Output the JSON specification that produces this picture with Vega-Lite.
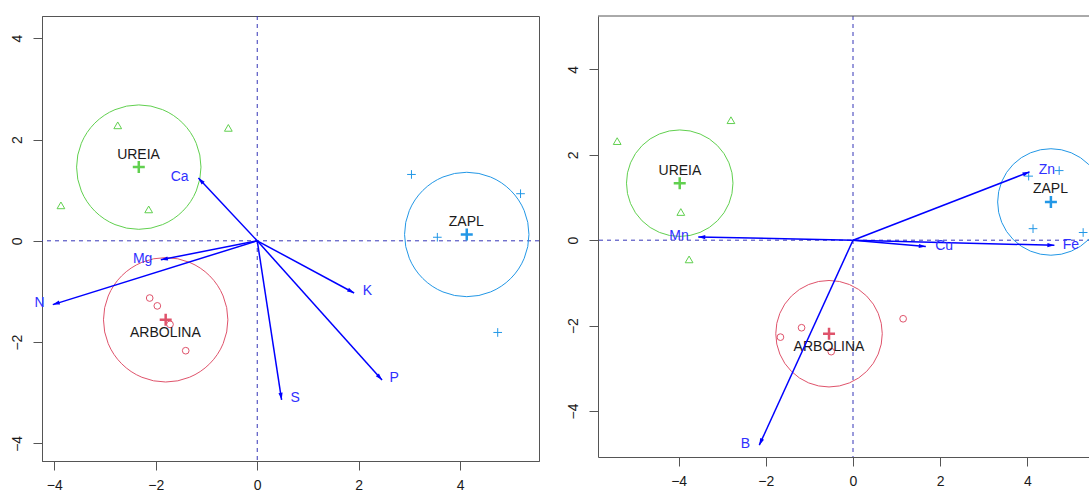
{
  "$schema": "https://vega.github.io/schema/vega-lite/v6.json",
  "background": "white",
  "padding": {"left": 9, "top": 15, "right": 0, "bottom": 0},
  "spacing": 26,
  "config": {
    "font": "Liberation Sans",
    "view": {"stroke": "#555", "strokeWidth": 1},
    "axis": {"grid": false, "domainColor": "#555", "domainWidth": 1, "tickColor": "#555", "tickSize": 9, "tickWidth": 1, "labelFontSize": 14, "labelColor": "#1a1a1a", "labelFont": "Liberation Sans", "labelFlush": false, "labelOverlap": false},
    "axisX": {"labelPadding": 8, "labelBaseline": "top"},
    "axisY": {"labelAngle": -90, "labelAlign": "center", "labelBaseline": "bottom", "labelPadding": 9}
  },
  "datasets": {
    "origin": [{"x": 0, "y": 0}],
    "macroScores": [
      {"group": "UREIA", "x": -2.75, "y": 2.28},
      {"group": "UREIA", "x": -0.57, "y": 2.23},
      {"group": "UREIA", "x": -3.87, "y": 0.70},
      {"group": "UREIA", "x": -2.14, "y": 0.62},
      {"group": "ARBOLINA", "x": -2.12, "y": -1.13},
      {"group": "ARBOLINA", "x": -1.97, "y": -1.285},
      {"group": "ARBOLINA", "x": -1.72, "y": -1.65},
      {"group": "ARBOLINA", "x": -1.41, "y": -2.17},
      {"group": "ZAPL", "x": 3.04, "y": 1.31},
      {"group": "ZAPL", "x": 5.19, "y": 0.93},
      {"group": "ZAPL", "x": 3.55, "y": 0.07},
      {"group": "ZAPL", "x": 4.74, "y": -1.81}
    ],
    "macroGroups": [
      {"group": "UREIA", "x": -2.335, "y": 1.455, "lx": -2.34, "ly": 1.69},
      {"group": "ARBOLINA", "x": -1.805, "y": -1.56, "lx": -1.81, "ly": -1.82},
      {"group": "ZAPL", "x": 4.13, "y": 0.125, "lx": 4.12, "ly": 0.38}
    ],
    "macroVars": [
      {"nutrient": "Ca", "x": -1.16, "y": 1.24, "lx": -1.53, "ly": 1.26},
      {"nutrient": "Mg", "x": -1.90, "y": -0.375, "lx": -2.26, "ly": -0.36},
      {"nutrient": "N", "x": -4.03, "y": -1.26, "lx": -4.29, "ly": -1.23},
      {"nutrient": "K", "x": 1.91, "y": -1.03, "lx": 2.17, "ly": -1.00},
      {"nutrient": "P", "x": 2.46, "y": -2.75, "lx": 2.70, "ly": -2.71},
      {"nutrient": "S", "x": 0.48, "y": -3.14, "lx": 0.75, "ly": -3.10}
    ],
    "microScores": [
      {"group": "UREIA", "x": -5.41, "y": 2.32},
      {"group": "UREIA", "x": -2.80, "y": 2.81},
      {"group": "UREIA", "x": -3.95, "y": 0.66},
      {"group": "UREIA", "x": -3.76, "y": -0.45},
      {"group": "ARBOLINA", "x": -1.665, "y": -2.27},
      {"group": "ARBOLINA", "x": -1.18, "y": -2.05},
      {"group": "ARBOLINA", "x": -0.50, "y": -2.61},
      {"group": "ARBOLINA", "x": 1.15, "y": -1.84},
      {"group": "ZAPL", "x": 4.03, "y": 1.50},
      {"group": "ZAPL", "x": 4.73, "y": 1.63},
      {"group": "ZAPL", "x": 4.13, "y": 0.27},
      {"group": "ZAPL", "x": 5.28, "y": 0.18}
    ],
    "microGroups": [
      {"group": "UREIA", "x": -3.975, "y": 1.335, "lx": -3.97, "ly": 1.63},
      {"group": "ARBOLINA", "x": -0.55, "y": -2.19, "lx": -0.55, "ly": -2.50},
      {"group": "ZAPL", "x": 4.54, "y": 0.895, "lx": 4.53, "ly": 1.19}
    ],
    "microVars": [
      {"nutrient": "Zn", "x": 4.05, "y": 1.60, "lx": 4.45, "ly": 1.64},
      {"nutrient": "Mn", "x": -3.55, "y": 0.075, "lx": -3.99, "ly": 0.095},
      {"nutrient": "Cu", "x": 1.67, "y": -0.15, "lx": 2.09, "ly": -0.14},
      {"nutrient": "Fe", "x": 4.62, "y": -0.12, "lx": 5.0, "ly": -0.11},
      {"nutrient": "B", "x": -2.15, "y": -4.80, "lx": -2.47, "ly": -4.78}
    ]
  },
  "hconcat": [
    {
      "width": 497,
      "height": 445,
      "layer": [
        {
          "data": {"name": "origin"},
          "mark": {"type": "rule", "color": "#3535b8", "strokeWidth": 1, "strokeDash": [4, 4]},
          "encoding": {"x": {"field": "x", "type": "quantitative", "scale": {"domain": [-4.243, 5.554], "nice": false, "zero": false}, "axis": {"values": [-4, -2, 0, 2, 4], "title": null}}}
        },
        {
          "data": {"name": "origin"},
          "mark": {"type": "rule", "color": "#3535b8", "strokeWidth": 1, "strokeDash": [4, 4]},
          "encoding": {"y": {"field": "y", "type": "quantitative", "scale": {"domain": [-4.348, 4.439], "nice": false, "zero": false}, "axis": {"values": [-4, -2, 0, 2, 4], "title": null}}}
        },
        {
          "data": {"name": "macroGroups"},
          "mark": {"type": "point", "shape": "circle", "filled": false, "size": 15475, "strokeWidth": 1, "opacity": 1},
          "encoding": {
            "x": {"field": "x", "type": "quantitative", "scale": {"domain": [-4.243, 5.554], "nice": false, "zero": false}, "axis": {"values": [-4, -2, 0, 2, 4], "title": null}},
            "y": {"field": "y", "type": "quantitative", "scale": {"domain": [-4.348, 4.439], "nice": false, "zero": false}, "axis": {"values": [-4, -2, 0, 2, 4], "title": null}},
            "color": {"field": "group", "type": "nominal", "scale": {"domain": ["ARBOLINA", "UREIA", "ZAPL"], "range": ["#DF536B", "#61D04F", "#2297E6"]}, "legend": null}
          }
        },
        {
          "data": {"name": "macroScores"},
          "mark": {"type": "point", "filled": false, "strokeWidth": 1, "opacity": 1},
          "encoding": {
            "x": {"field": "x", "type": "quantitative", "scale": {"domain": [-4.243, 5.554], "nice": false, "zero": false}, "axis": {"values": [-4, -2, 0, 2, 4], "title": null}},
            "y": {"field": "y", "type": "quantitative", "scale": {"domain": [-4.348, 4.439], "nice": false, "zero": false}, "axis": {"values": [-4, -2, 0, 2, 4], "title": null}},
            "color": {"field": "group", "type": "nominal", "scale": {"domain": ["ARBOLINA", "UREIA", "ZAPL"], "range": ["#DF536B", "#61D04F", "#2297E6"]}, "legend": null},
            "shape": {"field": "group", "type": "nominal", "scale": {"domain": ["ARBOLINA", "UREIA", "ZAPL"], "range": ["circle", "triangle-up", "M-1,0L1,0M0,-1L0,1"]}, "legend": null},
            "size": {"field": "group", "type": "nominal", "scale": {"domain": ["ARBOLINA", "UREIA", "ZAPL"], "range": [45, 75, 55]}, "legend": null}
          }
        },
        {
          "data": {"name": "macroGroups"},
          "mark": {"type": "point", "shape": "M-1,0L1,0M0,-1L0,1", "filled": false, "size": 144, "strokeWidth": 2.5, "opacity": 1},
          "encoding": {
            "x": {"field": "x", "type": "quantitative", "scale": {"domain": [-4.243, 5.554], "nice": false, "zero": false}, "axis": {"values": [-4, -2, 0, 2, 4], "title": null}},
            "y": {"field": "y", "type": "quantitative", "scale": {"domain": [-4.348, 4.439], "nice": false, "zero": false}, "axis": {"values": [-4, -2, 0, 2, 4], "title": null}},
            "color": {"field": "group", "type": "nominal", "scale": {"domain": ["ARBOLINA", "UREIA", "ZAPL"], "range": ["#DF536B", "#61D04F", "#2297E6"]}, "legend": null}
          }
        },
        {
          "data": {"name": "macroGroups"},
          "mark": {"type": "text", "fontSize": 14, "color": "#1a1a1a", "align": "center", "baseline": "middle"},
          "encoding": {
            "x": {"field": "lx", "type": "quantitative", "scale": {"domain": [-4.243, 5.554], "nice": false, "zero": false}, "axis": {"values": [-4, -2, 0, 2, 4], "title": null}},
            "y": {"field": "ly", "type": "quantitative", "scale": {"domain": [-4.348, 4.439], "nice": false, "zero": false}, "axis": {"values": [-4, -2, 0, 2, 4], "title": null}},
            "text": {"field": "group", "type": "nominal"}
          }
        },
        {
          "data": {"name": "macroVars"},
          "mark": {"type": "rule", "color": "#0000ff", "strokeWidth": 1.5},
          "encoding": {
            "x": {"field": "x", "type": "quantitative", "scale": {"domain": [-4.243, 5.554], "nice": false, "zero": false}, "axis": {"values": [-4, -2, 0, 2, 4], "title": null}},
            "y": {"field": "y", "type": "quantitative", "scale": {"domain": [-4.348, 4.439], "nice": false, "zero": false}, "axis": {"values": [-4, -2, 0, 2, 4], "title": null}},
            "x2": {"datum": 0},
            "y2": {"datum": 0}
          }
        },
        {
          "data": {"name": "macroVars"},
          "transform": [{"calculate": "atan2(datum.x, datum.y) * 180 / PI", "as": "heading"}],
          "mark": {"type": "point", "shape": "M0,0L-0.3,1L0.3,1Z", "filled": true, "size": 196, "color": "#0000ff", "opacity": 1},
          "encoding": {
            "x": {"field": "x", "type": "quantitative", "scale": {"domain": [-4.243, 5.554], "nice": false, "zero": false}, "axis": {"values": [-4, -2, 0, 2, 4], "title": null}},
            "y": {"field": "y", "type": "quantitative", "scale": {"domain": [-4.348, 4.439], "nice": false, "zero": false}, "axis": {"values": [-4, -2, 0, 2, 4], "title": null}},
            "angle": {"field": "heading", "type": "quantitative", "scale": null}
          }
        },
        {
          "data": {"name": "macroVars"},
          "mark": {"type": "text", "fontSize": 14, "color": "#3030ff", "align": "center", "baseline": "middle"},
          "encoding": {
            "x": {"field": "lx", "type": "quantitative", "scale": {"domain": [-4.243, 5.554], "nice": false, "zero": false}, "axis": {"values": [-4, -2, 0, 2, 4], "title": null}},
            "y": {"field": "ly", "type": "quantitative", "scale": {"domain": [-4.348, 4.439], "nice": false, "zero": false}, "axis": {"values": [-4, -2, 0, 2, 4], "title": null}},
            "text": {"field": "nutrient", "type": "nominal"}
          }
        }
      ]
    },
    {
      "width": 493,
      "height": 441,
      "view": {"stroke": null},
      "layer": [
        {
          "data": {"name": "origin"},
          "mark": {"type": "rule", "color": "#3535b8", "strokeWidth": 1, "strokeDash": [4, 4]},
          "encoding": {"x": {"field": "x", "type": "quantitative", "scale": {"domain": [-5.85, 5.46], "nice": false, "zero": false}, "axis": {"values": [-4, -2, 0, 2, 4], "title": null}}}
        },
        {
          "data": {"name": "origin"},
          "mark": {"type": "rule", "color": "#3535b8", "strokeWidth": 1, "strokeDash": [4, 4]},
          "encoding": {"y": {"field": "y", "type": "quantitative", "scale": {"domain": [-5.077, 5.25], "nice": false, "zero": false}, "axis": {"values": [-4, -2, 0, 2, 4], "title": null}}}
        },
        {
          "data": {"name": "origin"},
          "mark": {"type": "rule", "color": "#555", "strokeWidth": 1},
          "encoding": {"y": {"datum": 5.25, "type": "quantitative", "scale": {"domain": [-5.077, 5.25], "nice": false, "zero": false}, "axis": {"values": [-4, -2, 0, 2, 4], "title": null}}}
        },
        {
          "data": {"name": "microGroups"},
          "mark": {"type": "point", "shape": "circle", "filled": false, "size": 11340, "strokeWidth": 1, "opacity": 1, "clip": true},
          "encoding": {
            "x": {"field": "x", "type": "quantitative", "scale": {"domain": [-5.85, 5.46], "nice": false, "zero": false}, "axis": {"values": [-4, -2, 0, 2, 4], "title": null}},
            "y": {"field": "y", "type": "quantitative", "scale": {"domain": [-5.077, 5.25], "nice": false, "zero": false}, "axis": {"values": [-4, -2, 0, 2, 4], "title": null}},
            "color": {"field": "group", "type": "nominal", "scale": {"domain": ["ARBOLINA", "UREIA", "ZAPL"], "range": ["#DF536B", "#61D04F", "#2297E6"]}, "legend": null}
          }
        },
        {
          "data": {"name": "microScores"},
          "mark": {"type": "point", "filled": false, "strokeWidth": 1, "opacity": 1},
          "encoding": {
            "x": {"field": "x", "type": "quantitative", "scale": {"domain": [-5.85, 5.46], "nice": false, "zero": false}, "axis": {"values": [-4, -2, 0, 2, 4], "title": null}},
            "y": {"field": "y", "type": "quantitative", "scale": {"domain": [-5.077, 5.25], "nice": false, "zero": false}, "axis": {"values": [-4, -2, 0, 2, 4], "title": null}},
            "color": {"field": "group", "type": "nominal", "scale": {"domain": ["ARBOLINA", "UREIA", "ZAPL"], "range": ["#DF536B", "#61D04F", "#2297E6"]}, "legend": null},
            "shape": {"field": "group", "type": "nominal", "scale": {"domain": ["ARBOLINA", "UREIA", "ZAPL"], "range": ["circle", "triangle-up", "M-1,0L1,0M0,-1L0,1"]}, "legend": null},
            "size": {"field": "group", "type": "nominal", "scale": {"domain": ["ARBOLINA", "UREIA", "ZAPL"], "range": [45, 75, 55]}, "legend": null}
          }
        },
        {
          "data": {"name": "microGroups"},
          "mark": {"type": "point", "shape": "M-1,0L1,0M0,-1L0,1", "filled": false, "size": 144, "strokeWidth": 2.5, "opacity": 1},
          "encoding": {
            "x": {"field": "x", "type": "quantitative", "scale": {"domain": [-5.85, 5.46], "nice": false, "zero": false}, "axis": {"values": [-4, -2, 0, 2, 4], "title": null}},
            "y": {"field": "y", "type": "quantitative", "scale": {"domain": [-5.077, 5.25], "nice": false, "zero": false}, "axis": {"values": [-4, -2, 0, 2, 4], "title": null}},
            "color": {"field": "group", "type": "nominal", "scale": {"domain": ["ARBOLINA", "UREIA", "ZAPL"], "range": ["#DF536B", "#61D04F", "#2297E6"]}, "legend": null}
          }
        },
        {
          "data": {"name": "microGroups"},
          "mark": {"type": "text", "fontSize": 14, "color": "#1a1a1a", "align": "center", "baseline": "middle"},
          "encoding": {
            "x": {"field": "lx", "type": "quantitative", "scale": {"domain": [-5.85, 5.46], "nice": false, "zero": false}, "axis": {"values": [-4, -2, 0, 2, 4], "title": null}},
            "y": {"field": "ly", "type": "quantitative", "scale": {"domain": [-5.077, 5.25], "nice": false, "zero": false}, "axis": {"values": [-4, -2, 0, 2, 4], "title": null}},
            "text": {"field": "group", "type": "nominal"}
          }
        },
        {
          "data": {"name": "microVars"},
          "mark": {"type": "rule", "color": "#0000ff", "strokeWidth": 1.5},
          "encoding": {
            "x": {"field": "x", "type": "quantitative", "scale": {"domain": [-5.85, 5.46], "nice": false, "zero": false}, "axis": {"values": [-4, -2, 0, 2, 4], "title": null}},
            "y": {"field": "y", "type": "quantitative", "scale": {"domain": [-5.077, 5.25], "nice": false, "zero": false}, "axis": {"values": [-4, -2, 0, 2, 4], "title": null}},
            "x2": {"datum": 0},
            "y2": {"datum": 0}
          }
        },
        {
          "data": {"name": "microVars"},
          "transform": [{"calculate": "atan2(datum.x, datum.y) * 180 / PI", "as": "heading"}],
          "mark": {"type": "point", "shape": "M0,0L-0.3,1L0.3,1Z", "filled": true, "size": 196, "color": "#0000ff", "opacity": 1},
          "encoding": {
            "x": {"field": "x", "type": "quantitative", "scale": {"domain": [-5.85, 5.46], "nice": false, "zero": false}, "axis": {"values": [-4, -2, 0, 2, 4], "title": null}},
            "y": {"field": "y", "type": "quantitative", "scale": {"domain": [-5.077, 5.25], "nice": false, "zero": false}, "axis": {"values": [-4, -2, 0, 2, 4], "title": null}},
            "angle": {"field": "heading", "type": "quantitative", "scale": null}
          }
        },
        {
          "data": {"name": "microVars"},
          "mark": {"type": "text", "fontSize": 14, "color": "#3030ff", "align": "center", "baseline": "middle"},
          "encoding": {
            "x": {"field": "lx", "type": "quantitative", "scale": {"domain": [-5.85, 5.46], "nice": false, "zero": false}, "axis": {"values": [-4, -2, 0, 2, 4], "title": null}},
            "y": {"field": "ly", "type": "quantitative", "scale": {"domain": [-5.077, 5.25], "nice": false, "zero": false}, "axis": {"values": [-4, -2, 0, 2, 4], "title": null}},
            "text": {"field": "nutrient", "type": "nominal"}
          }
        }
      ]
    }
  ]
}
